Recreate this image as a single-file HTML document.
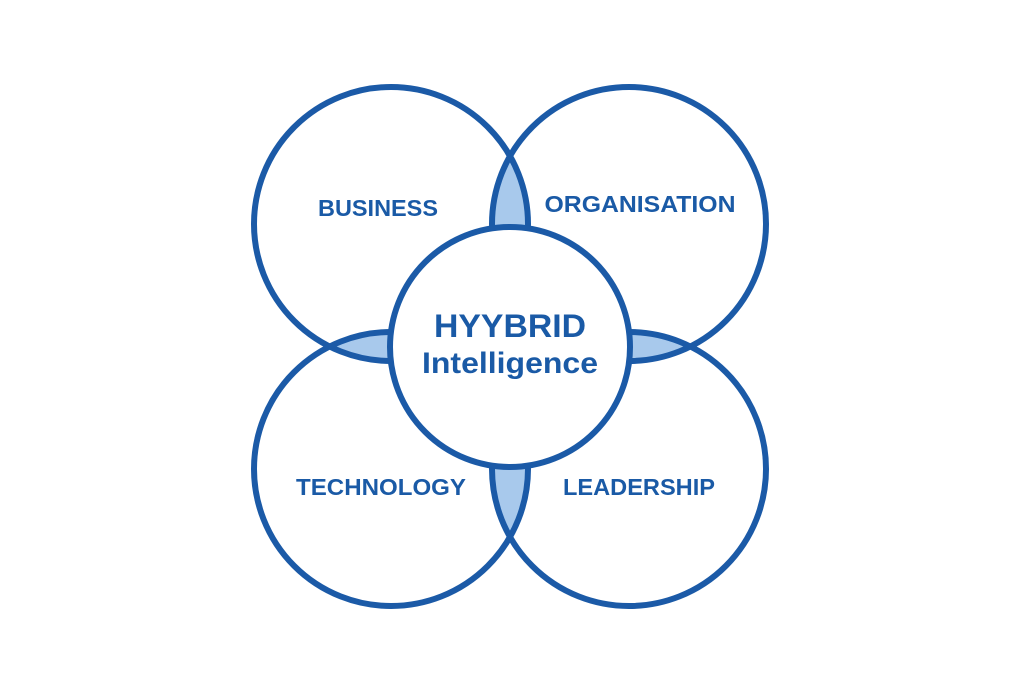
<!DOCTYPE html>
<html><head><meta charset="utf-8"><style>
html,body{margin:0;padding:0;background:#fff;width:1024px;height:682px;overflow:hidden}
svg{display:block}
text{font-family:"Liberation Sans",sans-serif;font-weight:bold;fill:#1a5aa6;text-anchor:middle}
</style></head><body>
<svg width="1024" height="682" viewBox="0 0 1024 682">
<defs>
<clipPath id="cTL"><circle cx="391" cy="224" r="137"/></clipPath>
<clipPath id="cBR"><circle cx="629" cy="469" r="137"/></clipPath>
</defs>
<g fill="#a8c9ec">
<circle cx="629" cy="224" r="137" clip-path="url(#cTL)"/>
<circle cx="391" cy="469" r="137" clip-path="url(#cTL)"/>
<circle cx="629" cy="224" r="137" clip-path="url(#cBR)"/>
<circle cx="391" cy="469" r="137" clip-path="url(#cBR)"/>
</g>
<g fill="none" stroke="#1b5aa7" stroke-width="6">
<circle cx="391" cy="224" r="137"/>
<circle cx="629" cy="224" r="137"/>
<circle cx="391" cy="469" r="137"/>
<circle cx="629" cy="469" r="137"/>
</g>
<circle cx="510" cy="347" r="120" fill="#fff" stroke="#1b5aa7" stroke-width="6"/>
<text x="378" y="216" font-size="23" textLength="120" lengthAdjust="spacingAndGlyphs">BUSINESS</text>
<text x="640" y="212" font-size="23" textLength="191" lengthAdjust="spacingAndGlyphs">ORGANISATION</text>
<text x="381" y="495" font-size="23" textLength="170" lengthAdjust="spacingAndGlyphs">TECHNOLOGY</text>
<text x="639" y="495" font-size="23" textLength="152" lengthAdjust="spacingAndGlyphs">LEADERSHIP</text>
<text x="510" y="337" font-size="32" textLength="152" lengthAdjust="spacingAndGlyphs">HYYBRID</text>
<text x="510" y="373" font-size="30" textLength="176" lengthAdjust="spacingAndGlyphs">Intelligence</text>
</svg>
</body></html>
